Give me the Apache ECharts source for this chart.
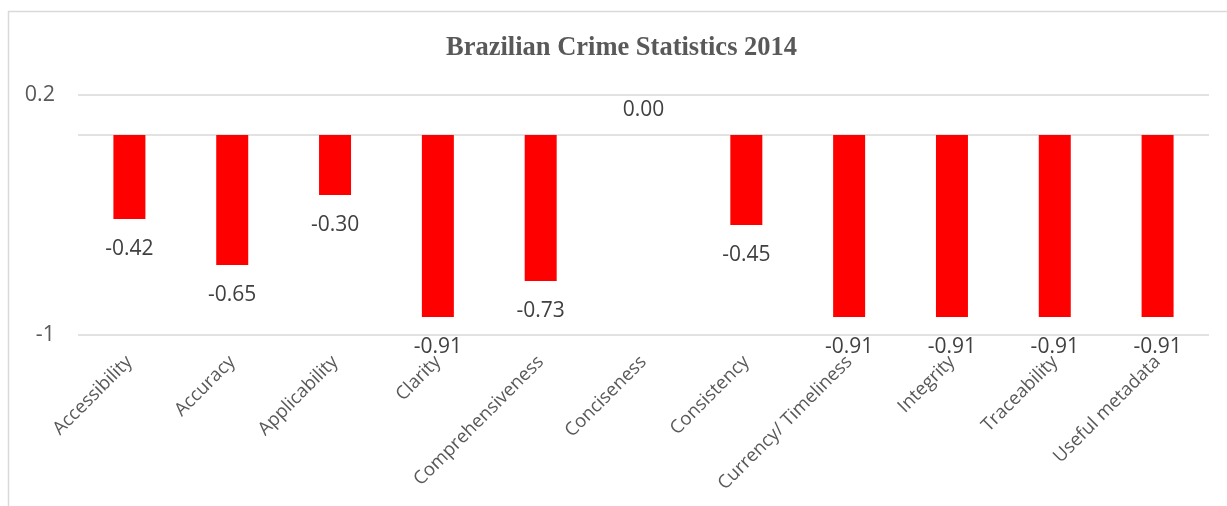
<!DOCTYPE html>
<html>
<head>
<meta charset="utf-8">
<script src="https://cdn.jsdelivr.net/npm/echarts@6/dist/echarts.min.js"></script>
<style>
html,body{margin:0;padding:0;background:#fff;}
#main{width:1227px;height:506px;}
</style>
</head>
<body>
<div id="main"></div>
<script>
const categories = ['Accessibility','Accuracy','Applicability','Clarity','Comprehensiveness','Conciseness','Consistency','Currency/ Timeliness','Integrity','Traceability','Useful metadata'];
const values = [-0.42,-0.65,-0.30,-0.91,-0.73,0.00,-0.45,-0.91,-0.91,-0.91,-0.91];
const yTickLabels = [-1, 0.2];
const gridLineValues = [0.2, 0, -1];
const titleText = 'Brazilian Crime Statistics 2014';

const chart = echarts.init(document.getElementById('main'), null, {renderer:'canvas'});
const barData = values.map(v => ({
  value: v,
  label: { position: v < 0 ? 'bottom' : 'top', distance: v < 0 ? 20 : 14 }
}));
chart.setOption({
  animation: false,
  backgroundColor: '#ffffff',
  graphic: [{
    type: 'rect',
    shape: { x: 8.5, y: 11.5, width: 1240, height: 520 },
    style: { fill: 'none', stroke: '#d9d9d9', lineWidth: 1.5 },
    silent: true, z: -1
  }],
  title: {
    text: titleText,
    left: 446, top: 35, padding: 0,
    textStyle: { fontFamily: 'Liberation Serif', fontWeight: 'bold', fontSize: 26.5, color: '#595959' }
  },
  grid: { left: 78, right: 18, top: 95, bottom: 171, containLabel: false },
  xAxis: {
    type: 'category',
    data: categories,
    axisLine: { show: false, onZero: false },
    axisTick: { show: false },
    axisLabel: {
      interval: 0, rotate: 45, margin: 24,
      fontFamily: 'Open Sans', fontSize: 18.5, color: '#595959'
    }
  },
  yAxis: {
    type: 'value',
    min: -1, max: 0.2, interval: 0.2,
    axisLine: { show: false },
    axisTick: { show: false },
    splitLine: { show: false },
    axisLabel: {
      margin: 23,
      fontFamily: 'Open Sans', fontSize: 21.5, color: '#595959',
      formatter: function (v) {
        for (const t of yTickLabels) { if (Math.abs(v - t) < 1e-9) return String(t); }
        return '';
      }
    }
  },
  series: [{
    type: 'bar',
    data: barData,
    barWidth: 32,
    itemStyle: { color: '#ff0000' },
    label: {
      show: true,
      fontFamily: 'Open Sans', fontSize: 21, color: '#404040',
      formatter: p => p.value.toFixed(2)
    },
    markLine: {
      silent: true,
      symbol: 'none',
      label: { show: false },
      lineStyle: { color: '#d9d9d9', width: 1.5, type: 'solid' },
      data: gridLineValues.map(v => ({ yAxis: v })),
      z: 1
    },
    z: 2
  }]
});
</script>
</body>
</html>
